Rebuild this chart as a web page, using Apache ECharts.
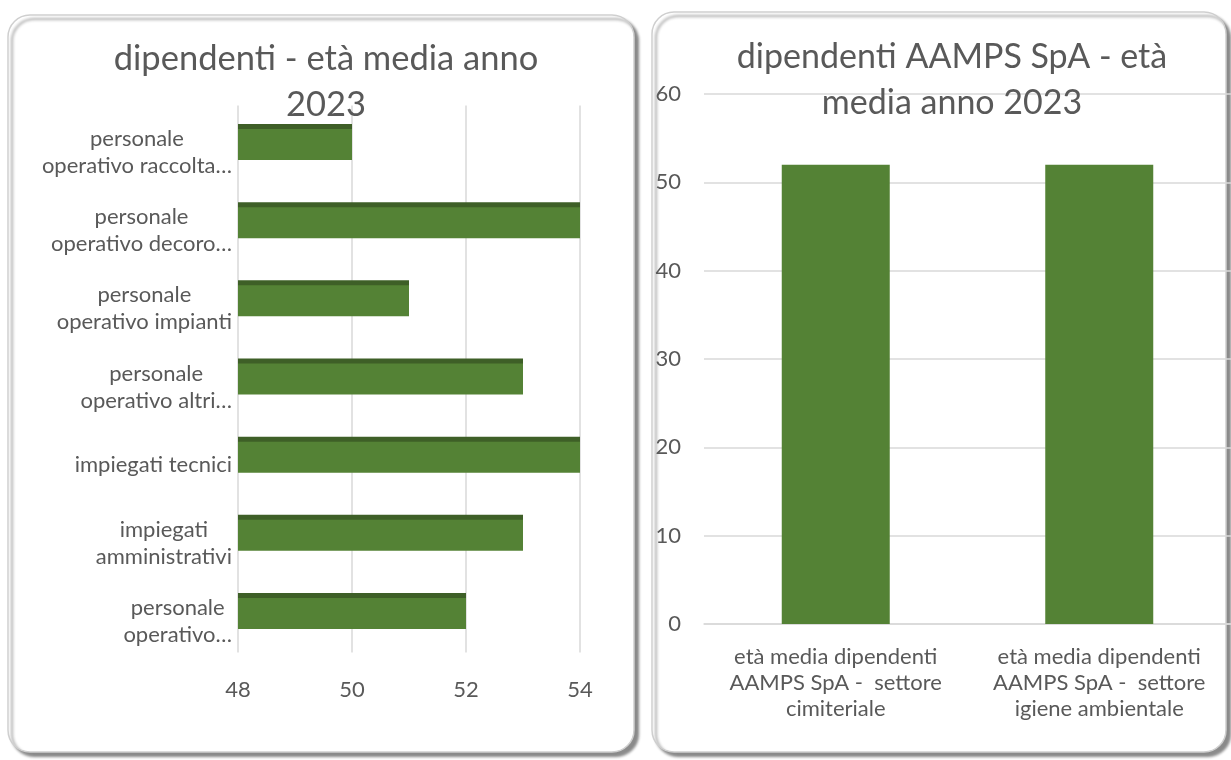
<!DOCTYPE html>
<html><head><meta charset="utf-8">
<script src="https://cdn.jsdelivr.net/npm/echarts@6/dist/echarts.min.js"></script>
<style>html,body{margin:0;padding:0;background:#fff}#c{width:1231px;height:760px}</style>
</head><body><div id="c"></div>
<script>
const leftTitle = 'dipendenti - età media anno\n2023';
const leftCategories = [
  'personale\noperativo raccolta…',
  'personale\noperativo decoro…',
  'personale\noperativo impianti',
  'personale\noperativo altri…',
  'impiegati tecnici',
  'impiegati\namministrativi',
  'personale\noperativo…'
];
const leftValues = [50, 54, 51, 53, 54, 53, 52];
const leftTicks = { min: 48, max: 54, interval: 2 };

const rightTitle = 'dipendenti AAMPS SpA - età\nmedia anno 2023';
const rightCategories = [
  'età media dipendenti\nAAMPS SpA -  settore\ncimiteriale',
  'età media dipendenti\nAAMPS SpA -  settore\nigiene ambientale'
];
const rightValues = [52, 52];
const rightTicks = { min: 0, max: 60, interval: 10 };

const FONT = 'Lato';
const TXT = '#595959';
const GRID = '#d9d9d9';
const GREEN = '#548235';
const DARK = '#3e5f27';
const LBL = 22;

function richLines(v) {
  return v.split('\n').map(s => '{c|' + s + '}').join('\n');
}

const chart = echarts.init(document.getElementById('c'), null, { renderer: 'canvas' });
chart.setOption({
  animation: false,
  backgroundColor: '#ffffff',
  textStyle: { fontFamily: FONT },
  graphic: [
    { type: 'rect', z: -10, shape: { x: 8, y: 15, width: 626, height: 737, r: 22 },
      style: { fill: '#ffffff', stroke: '#cfcfcf', lineWidth: 1.5,
        shadowBlur: 3, shadowOffsetX: 4, shadowOffsetY: 4, shadowColor: 'rgba(0,0,0,0.45)' } },
    { type: 'rect', z: -10, shape: { x: 652, y: 12, width: 574, height: 740, r: 22 },
      style: { fill: '#ffffff', stroke: '#cfcfcf', lineWidth: 1.5,
        shadowBlur: 3, shadowOffsetX: 4, shadowOffsetY: 4, shadowColor: 'rgba(0,0,0,0.45)' } }
  ],
  title: [
    { text: leftTitle, left: 321, top: 31, textAlign: 'center', z: 10,
      textStyle: { fontFamily: FONT, fontSize: 34.5, fontWeight: 'normal', color: TXT, lineHeight: 46 } },
    { text: rightTitle, left: 947, top: 29, textAlign: 'center', z: 10,
      textStyle: { fontFamily: FONT, fontSize: 34, fontWeight: 'normal', color: TXT, lineHeight: 46 } }
  ],
  grid: [
    { left: 238, width: 342, top: 105.5, height: 547 },
    { left: 704, width: 538, top: 94, height: 530 }
  ],
  xAxis: [
    { type: 'value', gridIndex: 0, min: leftTicks.min, max: leftTicks.max, interval: leftTicks.interval,
      axisLine: { show: false }, axisTick: { show: false },
      axisLabel: { color: TXT, fontFamily: FONT, fontSize: LBL, margin: 26 },
      splitLine: { lineStyle: { color: GRID, width: 1.5 } } },
    { type: 'category', gridIndex: 1, data: rightCategories,
      axisLine: { lineStyle: { color: GRID, width: 1.5 } }, axisTick: { show: false },
      axisLabel: { color: TXT, fontFamily: FONT, fontSize: LBL, lineHeight: 26, margin: 20, interval: 0,
        formatter: richLines,
        rich: { c: { align: 'center', fontFamily: FONT, fontSize: LBL, lineHeight: 26, color: TXT } } } }
  ],
  yAxis: [
    { type: 'category', gridIndex: 0, data: leftCategories, inverse: true,
      axisLine: { show: false }, axisTick: { show: false },
      axisLabel: { color: TXT, fontFamily: FONT, fontSize: LBL, lineHeight: 27, margin: 6, interval: 0,
        padding: [16, 0, 0, 0],
        formatter: richLines,
        rich: { c: { align: 'center', fontFamily: FONT, fontSize: LBL, lineHeight: 27, color: TXT } } } },
    { type: 'value', gridIndex: 1, min: rightTicks.min, max: rightTicks.max, interval: rightTicks.interval,
      axisLine: { show: false }, axisTick: { show: false },
      axisLabel: { color: TXT, fontFamily: FONT, fontSize: LBL, margin: 23 },
      splitLine: { lineStyle: { color: GRID, width: 1.5 } } }
  ],
  series: [
    { type: 'bar', xAxisIndex: 0, yAxisIndex: 0, data: leftValues, barWidth: 31,
      itemStyle: { color: GREEN,
        shadowColor: DARK, shadowBlur: 0, shadowOffsetX: 0, shadowOffsetY: -5 } },
    { type: 'bar', xAxisIndex: 1, yAxisIndex: 1, data: rightValues, barWidth: 108,
      itemStyle: { color: GREEN } }
  ]
});
</script></body></html>
